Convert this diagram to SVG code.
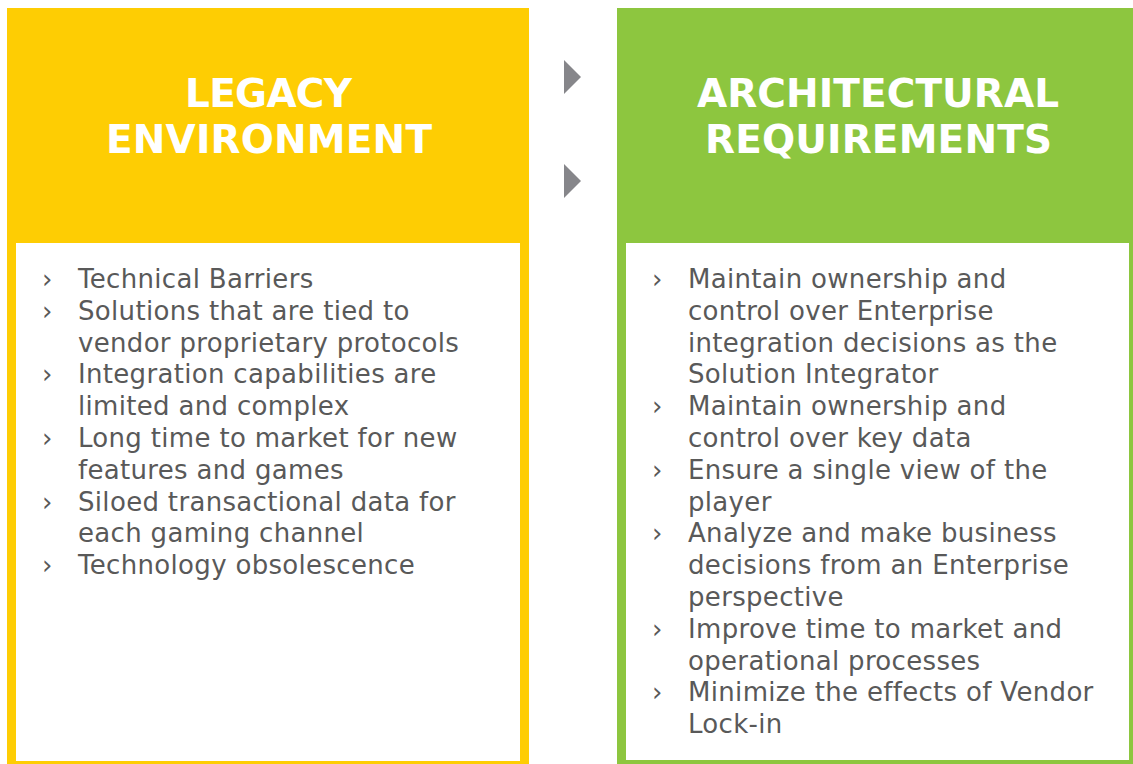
<svg xmlns="http://www.w3.org/2000/svg" width="1133" height="764" viewBox="0 0 1133 764">
  <style>
    .title { font-family: "DejaVu Sans", Verdana, sans-serif; font-weight: bold; font-size: 39px; fill: #ffffff; text-anchor: middle; }
    .body { font-family: "DejaVu Sans", Verdana, sans-serif; font-size: 26px; letter-spacing: 0.32px; fill: #595959; }
    .bul { font-family: "DejaVu Sans", Verdana, sans-serif; font-size: 26px; fill: #595959; }
    .panel { fill: #ffffff; }
    .arrow { fill: #86868a; }
  </style>
  <rect width="1133" height="764" fill="#ffffff"/>
  <g id="legacy-environment">
    <rect x="7" y="8" width="522" height="770" fill="#fecd03"/>
    <rect class="panel" x="16" y="243" width="504" height="518"/>
    <text class="title" x="268.5" y="107" textLength="167" lengthAdjust="spacing">LEGACY</text>
    <text class="title" x="269" y="153" textLength="326" lengthAdjust="spacing">ENVIRONMENT</text>
    <g class="bul">
      <text x="42" y="288">›</text>
      <text x="42" y="319.8">›</text>
      <text x="42" y="383.4">›</text>
      <text x="42" y="447">›</text>
      <text x="42" y="510.6">›</text>
      <text x="42" y="574.2">›</text>
    </g>
    <g class="body">
      <text x="78" y="288">Technical Barriers</text>
      <text x="78" y="319.8">Solutions that are tied to</text>
      <text x="78" y="351.6">vendor proprietary protocols</text>
      <text x="78" y="383.4">Integration capabilities are</text>
      <text x="78" y="415.2">limited and complex</text>
      <text x="78" y="447">Long time to market for new</text>
      <text x="78" y="478.8">features and games</text>
      <text x="78" y="510.6">Siloed transactional data for</text>
      <text x="78" y="542.4">each gaming channel</text>
      <text x="78" y="574.2">Technology obsolescence</text>
    </g>
  </g>
  <g id="architectural-requirements">
    <rect x="617" y="8" width="520" height="770" fill="#8dc63f"/>
    <rect class="panel" x="626" y="243" width="503" height="517"/>
    <text class="title" x="878" y="107" textLength="362" lengthAdjust="spacing">ARCHITECTURAL</text>
    <text class="title" x="878.5" y="153" textLength="347" lengthAdjust="spacing">REQUIREMENTS</text>
    <g class="bul">
      <text x="652" y="288">›</text>
      <text x="652" y="415.2">›</text>
      <text x="652" y="478.8">›</text>
      <text x="652" y="542.4">›</text>
      <text x="652" y="637.8">›</text>
      <text x="652" y="701.4">›</text>
    </g>
    <g class="body">
      <text x="688" y="288">Maintain ownership and</text>
      <text x="688" y="319.8">control over Enterprise</text>
      <text x="688" y="351.6">integration decisions as the</text>
      <text x="688" y="383.4">Solution Integrator</text>
      <text x="688" y="415.2">Maintain ownership and</text>
      <text x="688" y="447">control over key data</text>
      <text x="688" y="478.8">Ensure a single view of the</text>
      <text x="688" y="510.6">player</text>
      <text x="688" y="542.4">Analyze and make business</text>
      <text x="688" y="574.2">decisions from an Enterprise</text>
      <text x="688" y="606">perspective</text>
      <text x="688" y="637.8">Improve time to market and</text>
      <text x="688" y="669.6">operational processes</text>
      <text x="688" y="701.4">Minimize the effects of Vendor</text>
      <text x="688" y="733.2">Lock-in</text>
    </g>
  </g>
  <g id="connectors">
    <polygon class="arrow" points="564,60 581,77 564,94"/>
    <polygon class="arrow" points="564,164 581,181 564,198"/>
  </g>
</svg>
